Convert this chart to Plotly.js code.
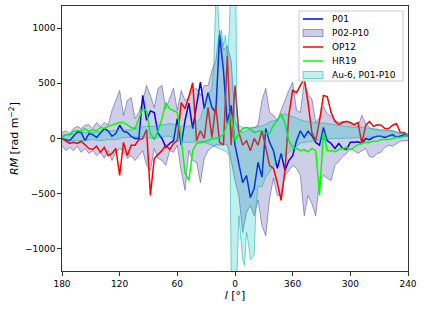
<!DOCTYPE html>
<html><head><meta charset="utf-8">
<script src="https://cdn.plot.ly/plotly-3.0.1.min.js"></script>
<style>html,body{margin:0;padding:0;background:#fff}#chart{width:424px;height:309px}</style>
</head><body><div id="chart"></div>
<script>
// Position along the x axis (degrees from l=180; axis labelled 180 120 60 0 360 300 240)
const axisPos = [0,4,8,12,16,20,24,28,32,36,40,44,48,52,56,60,64,68,72,76,80,84,88,92,96,100,104,108,112,116,120,124,128,132,136,140,144,148,152,156,160,164,168,172,176,180,184,188,192,196,200,204,208,212,216,220,224,228,232,236,240,244,248,252,256,260,264,268,272,276,280,284,288,292,296,300,304,308,312,316,320,324,328,332,336,340,344,348,352,356,360];
const tickPos = [0,60,120,180,240,300,360];
const tickLabels = ['180','120','60','0','360','300','240'];
const yTickVals = [-1000,-500,0,500,1000];
const yTickLabels = ['\u22121000','\u2212500','0','500','1000'];

const P01 = [0,-10,-20,20,60,55,-20,45,35,10,55,90,70,20,45,120,65,55,20,0,0,390,165,250,235,45,0,-80,-45,-20,180,-60,165,320,90,300,510,270,415,280,235,935,615,135,300,-60,-245,-400,-335,-535,-450,-215,-350,90,-35,-110,-270,-135,-290,-200,-155,-20,70,10,65,25,-35,-60,100,-20,-45,-90,-45,-90,-100,-35,-35,-30,-45,0,-10,10,20,20,10,25,35,10,25,35,35];
const OP12 = [0,-20,-45,-35,-45,-25,-60,-90,-100,-70,-125,-80,-155,-135,-90,-335,-35,-155,-60,-60,-10,0,80,-515,-180,-145,-110,-60,-100,-45,-20,325,270,380,505,-20,70,0,280,10,300,-35,-60,750,-60,480,55,-60,-20,-110,0,-60,70,-80,-245,-270,-400,-560,-290,210,435,415,480,545,325,55,-20,165,390,380,235,155,125,145,155,145,125,145,-45,120,155,110,125,120,90,90,120,135,55,55,20];
const HR19 = [10,35,35,65,70,70,90,65,80,70,100,90,110,120,135,145,145,120,100,90,180,270,250,45,-10,70,180,325,270,250,235,0,-310,-380,-110,-45,-35,-25,-20,0,0,10,35,135,210,-20,45,90,100,80,55,65,70,45,45,120,165,225,135,-20,-80,-90,-110,-100,-120,-90,-110,-515,55,-110,-110,-120,-100,-90,-80,-100,-80,-55,-45,-35,-35,-25,-25,-10,-10,-10,0,10,10,25,35];
const P02_P10_hi = [55,70,45,90,110,90,120,125,90,145,110,145,120,255,345,435,210,345,370,180,235,345,480,390,280,455,480,270,360,455,255,435,345,370,435,455,390,480,480,615,705,980,800,840,705,165,70,55,70,90,100,120,345,455,235,210,165,255,360,435,510,255,235,510,390,360,145,190,290,225,200,165,145,155,145,125,120,110,210,135,100,80,80,70,70,70,70,55,45,55,35];
const P02_P10_lo = [-65,-110,-80,-110,-70,-125,-90,-135,-110,-155,-125,-180,-110,-200,-125,-90,-110,-180,-155,-200,-155,-110,-245,-290,-90,-180,-200,-245,-110,-125,-60,-290,-470,-110,-200,-215,-400,-180,-110,-80,-60,-60,-45,-60,-200,-380,-515,-850,-670,-605,-700,-560,-790,-880,-545,-360,-515,-515,-335,-290,-245,-270,-335,-700,-515,-590,-700,-380,-335,-360,-380,-245,-200,-165,-135,-90,-110,-135,-110,-90,-165,-170,-135,-125,-80,-60,-70,-45,-25,-20,-20];

const Au6Pos = [0,8,16,24,32,40,48,56,64,72,80,88,96,104,112,120,128,136,144,148,152,156,158,160,162,164,166,168,170,172,174,175,176,178,180,181,182,184,186,188,190,192,194,196,198,200,202,204,208,212,216,220,224,228,232,236,240,248,256,264,272,280,288,296,304,312,320,328,336,344,352,360];
const Au6_hi = [30,35,45,55,55,65,70,70,80,80,100,110,110,125,135,120,100,120,180,300,390,455,705,1250,1250,890,980,840,935,750,980,1250,1250,1250,1250,1250,200,120,110,100,100,100,100,100,100,100,100,110,110,130,150,160,170,200,230,200,200,170,150,140,140,130,120,110,100,100,95,90,80,70,55,40];
const Au6_lo = [0,-20,-20,-20,-10,-20,-10,-10,10,10,20,10,0,20,20,-20,-35,-35,-25,-35,-45,-60,-70,-80,-85,-90,-100,-110,-115,-125,-160,-300,-1250,-1250,-1250,-1250,-1250,-700,-900,-1100,-1150,-850,-950,-1100,-1080,-1050,-600,-430,-440,-350,-300,-250,-200,-180,-150,-130,-100,-40,-30,-20,-10,0,0,0,5,10,15,20,20,20,20,20];

const names = ['P01','P02-P10','OP12','HR19','Au-6, P01-P10'];
const colBlue = '#0000ff', colRed = '#ff0000', colGreen = '#00ff00';
const purpleFill = 'rgba(30,30,140,0.22)', purpleEdge = 'rgba(30,30,140,0.42)';
const cyanFill = 'rgba(0,190,190,0.25)', cyanEdge = 'rgba(0,170,170,0.5)';

const traces = [
  {x:axisPos, y:P01, mode:'lines', line:{color:colBlue, width:1.5}, name:names[0]},
  {x:axisPos, y:P02_P10_lo, mode:'lines', line:{color:purpleEdge, width:1}, name:names[1]},
  {x:axisPos, y:P02_P10_hi, mode:'lines', fill:'tonexty', fillcolor:purpleFill, line:{color:purpleEdge, width:1}, name:names[1]},
  {x:axisPos, y:OP12, mode:'lines', line:{color:colRed, width:1.5}, name:names[2]},
  {x:axisPos, y:HR19, mode:'lines', line:{color:colGreen, width:1.5}, name:names[3]},
  {x:Au6Pos, y:Au6_lo, mode:'lines', line:{color:cyanEdge, width:1}, name:names[4]},
  {x:Au6Pos, y:Au6_hi, mode:'lines', fill:'tonexty', fillcolor:cyanFill, line:{color:cyanEdge, width:1}, name:names[4]}
];

// manual legend (matplotlib style), positioned in paper coords
const W=424, H=309, mL=62, mR=16, mT=6, mB=38;
const pw = W-mL-mR, ph = H-mT-mB;
const px2x = p => (p-mL)/pw;
const py2y = p => (H-mB-p)/ph;
const legendKinds = [
  {kind:'line', color:colBlue},
  {kind:'patch', fill:purpleFill, edge:purpleEdge},
  {kind:'line', color:colRed},
  {kind:'line', color:colGreen},
  {kind:'patch', fill:cyanFill, edge:cyanEdge}
];
const shapes = [{type:'rect', xref:'paper', yref:'paper', layer:'above',
  x0:px2x(299), x1:px2x(403), y0:py2y(81), y1:py2y(11),
  fillcolor:'rgba(255,255,255,0.85)', line:{color:'#cccccc', width:1}}];
const annotations = [];
legendKinds.forEach((k,i)=>{
  const ry = 19 + i*14;
  if (k.kind==='line') {
    shapes.push({type:'line', xref:'paper', yref:'paper', layer:'above',
      x0:px2x(303), x1:px2x(323), y0:py2y(ry), y1:py2y(ry), line:{color:k.color, width:1.5}});
  } else {
    shapes.push({type:'rect', xref:'paper', yref:'paper', layer:'above',
      x0:px2x(303), x1:px2x(323), y0:py2y(ry+3.5), y1:py2y(ry-3.5), fillcolor:k.fill, line:{color:k.edge, width:1}});
  }
  annotations.push({xref:'paper', yref:'paper', x:px2x(330), y:py2y(ry), xanchor:'left', yanchor:'middle',
    text:names[i], showarrow:false, font:{family:'DejaVu Sans', size:9, color:'#000'}});
});

const axisCommon = {ticks:'outside', ticklen:4, tickwidth:0.8, tickcolor:'#000', showline:true, linecolor:'#000',
  linewidth:0.8, mirror:true, showgrid:false, zeroline:false, tickfont:{family:'DejaVu Sans', size:9, color:'#000'}};

const layout = {
  width:W, height:H, margin:{l:mL, r:mR, t:mT, b:mB, pad:0},
  paper_bgcolor:'#fff', plot_bgcolor:'#fff', showlegend:false,
  font:{family:'DejaVu Sans', size:9, color:'#000'},
  xaxis:Object.assign({}, axisCommon, {range:[0,360], tickmode:'array', tickvals:tickPos, ticktext:tickLabels,
    title:{text:'<i>l</i> [°]', font:{family:'DejaVu Sans', size:11, color:'#000'}, standoff:3}}),
  yaxis:Object.assign({}, axisCommon, {range:[-1200,1200], tickmode:'array', tickvals:yTickVals, ticktext:yTickLabels,
    title:{text:'<i>RM</i> [rad m<sup>\u22122</sup>]', font:{family:'DejaVu Sans', size:11, color:'#000'}, standoff:3}}),
  shapes:shapes, annotations:annotations
};
Plotly.newPlot('chart', traces, layout, {displayModeBar:false, staticPlot:true});
</script></body></html>
